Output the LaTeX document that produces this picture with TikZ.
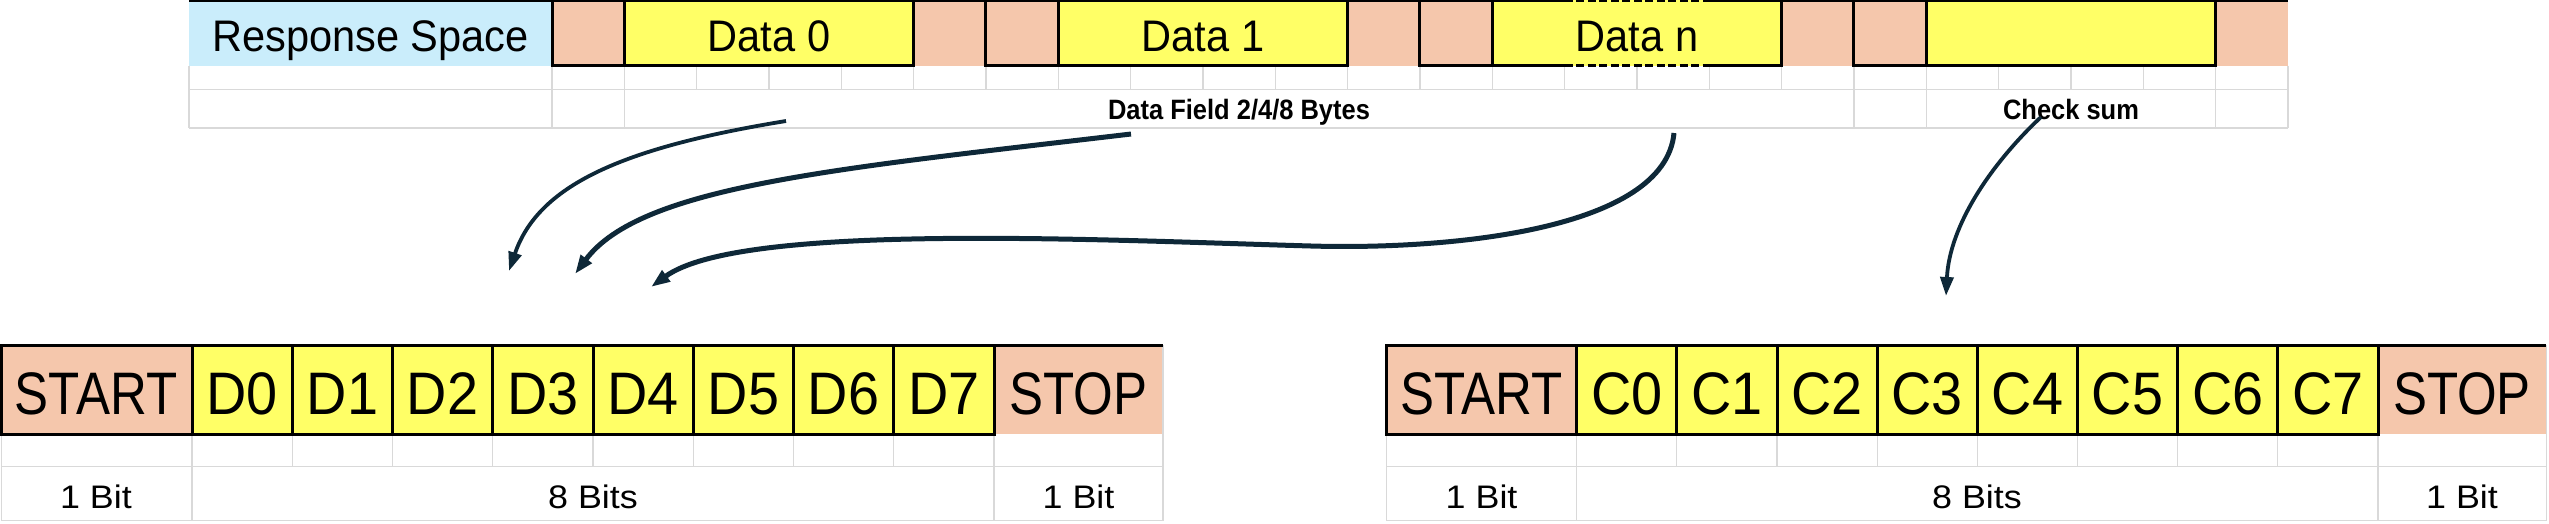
\documentclass[tikz,border=0pt]{standalone}
\usepackage{fontspec}
\setmainfont{Liberation Sans}
\newfontfamily\topfont[FakeStretch=0.94]{Liberation Sans}
\newfontfamily\topbold[FakeStretch=0.91]{Liberation Sans}
\newfontfamily\bigfont[FakeStretch=0.85]{Liberation Sans}
\newfontfamily\bitfont[FakeStretch=0.93]{Liberation Sans}
\newfontfamily\lblfont[FakeStretch=1.1]{Liberation Sans}
\usetikzlibrary{arrows.meta}
\definecolor{cblue}{RGB}{202,237,251}
\definecolor{cpink}{RGB}{245,199,172}
\definecolor{cyel}{RGB}{255,255,102}
\definecolor{cgrid}{RGB}{217,217,217}
\definecolor{carrow}{RGB}{14,40,56}
\tikzset{
  gridline/.style={draw=cgrid, line width=1.2pt},
  border/.style={draw=black, line width=3pt, line join=miter},
  dashborder/.style={draw=black, line width=3pt, dash pattern=on 8pt off 3.5pt},
  txt/.style={anchor=base, inner sep=0pt},
  toptxt/.style={txt, font=\topfont\fontsize{44.2}{50}\selectfont},
  boldtxt/.style={txt, font=\topbold\bfseries\fontsize{28}{32}\selectfont},
  endtxt/.style={txt, font=\bigfont\fontsize{60}{66}\selectfont},
  bittxt/.style={txt, font=\bitfont\fontsize{60}{66}\selectfont},
  lbltxt/.style={txt, font=\lblfont\fontsize{32.6}{38}\selectfont},
  conn/.style={draw=carrow, line width=5pt, -{Triangle[length=19pt,width=13pt]}},
  connthin/.style={draw=carrow, line width=3.8pt, -{Triangle[length=19pt,width=13pt]}}
}
\begin{document}
\begin{tikzpicture}[x=1pt,y=-1pt]
\useasboundingbox (0,0) rectangle (2549,523);
% ---------------- top table ----------------
\def\cw{72.33}
\fill[cblue] (189,0) rectangle (552,65.7);
\foreach \k in {0,5,6,11,12,17,18,23}
  \fill[cpink] ({552+\cw*\k},0) rectangle ({552+\cw*(\k+1)},65.7);
\foreach \k in {1,7,13,19}
  \fill[cyel] ({552+\cw*\k},0) rectangle ({552+\cw*(\k+4)},65.7);
% grid rows 2 and 3
\foreach \k in {0,...,24}
  \draw[gridline] ({552+\cw*\k},65.7) -- ({552+\cw*\k},89.3);
\draw[gridline] (189,65.7) -- (189,128);
\foreach \k in {0,1,18,19,23,24}
  \draw[gridline] ({552+\cw*\k},89.3) -- ({552+\cw*\k},128);
\draw[gridline] (189,89.3) -- (2288,89.3);
\draw[gridline] (189,128) -- (2288,128);
% black borders
\draw[border] (189,0) -- ({552+\cw*14},0);
\draw[border] ({552+\cw*16},0) -- (2288,0);
\foreach \k in {0,6,18}{
  \draw[border] ({552+\cw*\k},0) rectangle ({552+\cw*(\k+5)},65.7);
  \draw[border] ({552+\cw*(\k+1)},0) -- ({552+\cw*(\k+1)},65.7);
}
\draw[border] ({552+\cw*14},0) -- ({552+\cw*12},0) -- ({552+\cw*12},65.7) -- ({552+\cw*14},65.7);
\draw[border] ({552+\cw*16},0) -- ({552+\cw*17},0) -- ({552+\cw*17},65.7) -- ({552+\cw*16},65.7);
\draw[border] ({552+\cw*13},0) -- ({552+\cw*13},65.7);
\draw[dashborder] ({552+\cw*14},0) -- ({552+\cw*16},0);
\draw[dashborder] ({552+\cw*14},65.7) -- ({552+\cw*16},65.7);
% texts
\node[toptxt] (resp) at (370.5,51.5) {Response Space};
\node[toptxt] (data0) at (769,51.5) {Data 0};
\node[toptxt] (data1) at (1203,51.5) {Data 1};
\node[toptxt] (datan) at (1637,51.5) {Data n};
\node[boldtxt] (field) at (1239,119.3) {Data Field 2/4/8 Bytes};
\node[boldtxt] (chk) at (2071,119.3) {Check sum};
% ---------------- bottom left table ----------------
\def\LL{1.5}\def\LS{192}\def\LW{100.25}\def\LE{994}\def\LR{1163}
\fill[cpink] (\LL,345.3) rectangle (\LS,434);
\fill[cyel] (\LS,345.3) rectangle (\LE,434);
\fill[cpink] (\LE,345.3) rectangle (\LR,434);
\foreach \i in {1,...,7}
  \draw[gridline] ({\LS+\LW*\i},434) -- ({\LS+\LW*\i},466.7);
\foreach \xx in {\LL,\LS,\LE,\LR}
  \draw[gridline] (\xx,434) -- (\xx,520.7);
\draw[gridline] (\LR,345.3) -- (\LR,434);
\draw[gridline] (\LL,466.7) -- (\LR,466.7);
\draw[gridline] (\LL,520.7) -- (\LR,520.7);
\draw[border] (\LL,345.3) rectangle (\LE,434);
\foreach \i in {0,...,7}
  \draw[border] ({\LS+\LW*\i},345.3) -- ({\LS+\LW*\i},434);
\draw[border] (\LE,345.3) -- (\LR,345.3);
\node[endtxt] (lstart) at (96,414) {START};
\foreach \i in {0,...,7}
  \node[bittxt] (ld\i) at ({\LS+\LW*(\i+0.5)},414) {D\i};
\node[endtxt] (lstop) at (1078.5,414) {STOP};
\node[lbltxt] (lbita) at (96,508.3) {1 Bit};
\node[lbltxt] (lbits) at (593,508.3) {8 Bits};
\node[lbltxt] (lbitb) at (1078.5,508.3) {1 Bit};
% ---------------- bottom right table ----------------
\def\RL{1386.5}\def\RS{1576.7}\def\RW{100.16}\def\RE{2378}\def\RR{2546.3}
\fill[cpink] (\RL,345.3) rectangle (\RS,434);
\fill[cyel] (\RS,345.3) rectangle (\RE,434);
\fill[cpink] (\RE,345.3) rectangle (\RR,434);
\foreach \i in {1,...,7}
  \draw[gridline] ({\RS+\RW*\i},434) -- ({\RS+\RW*\i},466.7);
\foreach \xx in {\RL,\RS,\RE,\RR}
  \draw[gridline] (\xx,434) -- (\xx,520.7);
\draw[gridline] (\RR,345.3) -- (\RR,434);
\draw[gridline] (\RL,466.7) -- (\RR,466.7);
\draw[gridline] (\RL,520.7) -- (\RR,520.7);
\draw[border] (\RL,345.3) rectangle (\RE,434);
\foreach \i in {0,...,7}
  \draw[border] ({\RS+\RW*\i},345.3) -- ({\RS+\RW*\i},434);
\draw[border] (\RE,345.3) -- (\RR,345.3);
\node[endtxt] (rstart) at (1481.6,414) {START};
\foreach \i in {0,...,7}
  \node[bittxt] (rc\i) at ({\RS+\RW*(\i+0.5)},414) {C\i};
\node[endtxt] (rstop) at (2462,414) {STOP};
\node[lbltxt] (rbita) at (1481.6,508.3) {1 Bit};
\node[lbltxt] (rbits) at (1977,508.3) {8 Bits};
\node[lbltxt] (rbitb) at (2462,508.3) {1 Bit};
% ---------------- arrows ----------------
\coordinate (a1s) at (786,121);  \coordinate (a1e) at (509,271);
\coordinate (a2s) at (1131,134); \coordinate (a2e) at (575,274);
\coordinate (a3s) at (1674,133); \coordinate (a3m) at (1311,246); \coordinate (a3e) at (651,287);
\coordinate (a4s) at (2041,117); \coordinate (a4e) at (1946,296);
\draw[connthin] (a1s) .. controls (620,148) and (538,186) .. (a1e);
\draw[conn] (a2s) .. controls (834,169) and (641,186) .. (a2e);
\draw[conn] (a3s) .. controls (1665,230) and (1450,250) .. (a3m) .. controls (1100,240) and (740,222) .. (a3e);
\draw[connthin] (a4s) .. controls (1990,165) and (1949.5,226) .. (a4e);
\end{tikzpicture}
\end{document}
